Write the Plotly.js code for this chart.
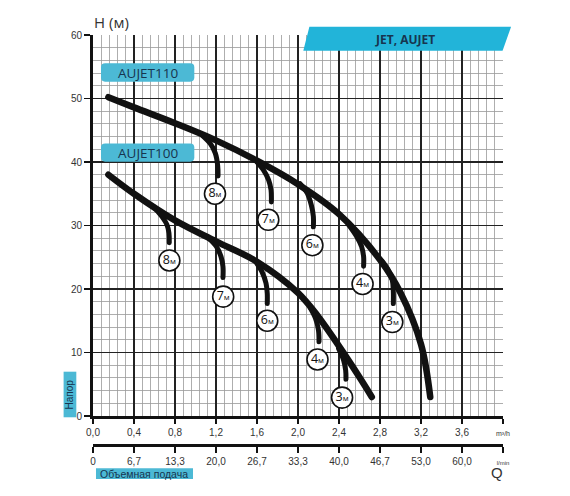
<!DOCTYPE html>
<html>
<head>
<meta charset="utf-8">
<script src="https://cdn.plot.ly/plotly-3.0.1.min.js"></script>
<style>
html,body{margin:0;padding:0;background:#fff;}
#chart{width:570px;height:496px;}
#chart path.js-line{stroke-linecap:round;stroke-linejoin:round;}
</style>
</head>
<body>
<div id="chart"></div>
<script>
// ---- data ----
const q110 = [0.15, 0.4, 0.8, 1.2, 1.6, 2.0, 2.4, 2.8, 3.0, 3.2, 3.29];
const h110 = [50.2, 48.6, 46.1, 43.4, 40.2, 36.5, 31.8, 24.6, 19.4, 11.3, 3.0];
const q100 = [0.15, 0.4, 0.8, 1.2, 1.6, 2.0, 2.2, 2.4, 2.6, 2.72];
const h100 = [38.0, 35.0, 30.8, 27.5, 24.3, 19.4, 15.6, 11.0, 6.1, 3.0];

const depths = ['8', '7', '6', '4', '3'];

const br110Q = [
  [1.063, 1.144, 1.193, 1.216, 1.22],
  [1.583, 1.665, 1.713, 1.737, 1.74],
  [2.02, 2.09, 2.13, 2.15, 2.15],
  [2.49, 2.575, 2.62, 2.64, 2.64],
  [2.82, 2.88, 2.92, 2.93, 2.93]
];
const br110H = [
  [44.25, 42.9, 41.4, 39.5, 37.8],
  [40.3, 38.7, 37.2, 35.6, 33.7],
  [36.6, 35.1, 33.2, 31.4, 29.8],
  [30.2, 28.2, 26.7, 25.1, 23.6],
  [24.4, 23.0, 21.4, 19.6, 17.7]
];
const lbl110Q = [1.19, 1.71, 2.14, 2.63, 2.92];
const lbl110H = [35.0, 30.9, 26.9, 20.8, 14.8];

const br100Q = [
  [0.59, 0.673, 0.722, 0.741, 0.744],
  [1.128, 1.203, 1.249, 1.268, 1.268],
  [1.583, 1.649, 1.688, 1.70, 1.70],
  [2.12, 2.17, 2.20, 2.205],
  [2.396, 2.445, 2.465, 2.468]
];
const br100H = [
  [33.0, 31.4, 30.1, 28.8, 27.3],
  [28.0, 26.7, 25.1, 23.5, 21.8],
  [24.4, 22.7, 20.9, 19.3, 17.7],
  [17.0, 15.4, 13.5, 11.7],
  [10.6, 8.8, 7.2, 5.8]
];
const lbl100Q = [0.745, 1.27, 1.70, 2.19, 2.43];
const lbl100H = [24.5, 18.8, 15.0, 8.9, 2.9];

const xTickVals = [0, 0.4, 0.8, 1.2, 1.6, 2.0, 2.4, 2.8, 3.2, 3.6, 4.0];
const xTickText = ['0,0', '0,4', '0,8', '1,2', '1,6', '2,0', '2,4', '2,8', '3,2', '3,6',
  '<span style="font-size:7px">m³/h</span>'];
const qTickText = ['0', '6,7', '13,3', '20,0', '26,7', '33,3', '40,0', '46,7', '53,0', '60,0',
  '<span style="font-size:6px">l/min</span>'];
const yTickVals = [0, 10, 20, 30, 40, 50, 60];

// ---- traces ----
const traces = [];
const mainLine = {color: '#111', width: 6.5, shape: 'spline', smoothing: 1};
const brLine = {color: '#111', width: 5, shape: 'spline', smoothing: 1};

traces.push({x: q110, y: h110, mode: 'lines', line: mainLine, hoverinfo: 'skip', showlegend: false});
traces.push({x: q100, y: h100, mode: 'lines', line: mainLine, hoverinfo: 'skip', showlegend: false});
for (let i = 0; i < depths.length; i++) {
  traces.push({x: br110Q[i], y: br110H[i], mode: 'lines', line: brLine, hoverinfo: 'skip', showlegend: false});
  traces.push({x: br100Q[i], y: br100H[i], mode: 'lines', line: brLine, hoverinfo: 'skip', showlegend: false});
}
const lblText = depths.map(d => d + '<span style="font-size:8px">м</span>');
const lblMarker = {size: 21, color: '#fff', line: {color: '#111', width: 1.6}};
const lblFont = {family: 'Open Sans, sans-serif', size: 12.5, color: '#111'};
traces.push({x: lbl110Q, y: lbl110H, xaxis: 'x2', mode: 'markers+text', text: lblText,
  textposition: 'middle center', marker: lblMarker, textfont: lblFont, hoverinfo: 'skip', showlegend: false});
traces.push({x: lbl100Q, y: lbl100H, xaxis: 'x2', mode: 'markers+text', text: lblText,
  textposition: 'middle center', marker: lblMarker, textfont: lblFont, hoverinfo: 'skip', showlegend: false});

// ---- layout helpers (paper coords) ----
function rrect(x0, y0, x1, y1, rx, ry) {
  return `M ${x0+rx},${y0} L ${x1-rx},${y0} Q ${x1},${y0} ${x1},${y0+ry} L ${x1},${y1-ry} Q ${x1},${y1} ${x1-rx},${y1} L ${x0+rx},${y1} Q ${x0},${y1} ${x0},${y1-ry} L ${x0},${y0+ry} Q ${x0},${y0} ${x0+rx},${y0} Z`;
}
const labelBlue = '#4cb9d5';
const navy = '#17354f';
const tickFont = {family: 'Liberation Sans, Arial, sans-serif', size: 10, color: '#333'};

const layout = {
  width: 570, height: 496,
  margin: {l: 93, r: 67, t: 35, b: 51, pad: 0},
  paper_bgcolor: '#fff', plot_bgcolor: '#fff',
  showlegend: false,
  xaxis: {
    range: [0, 4], anchor: 'y', fixedrange: true,
    tickmode: 'array', tickvals: xTickVals, ticktext: xTickText,
    ticks: 'outside', ticklen: 5, tickwidth: 1.5, tickcolor: '#111',
    showline: true, linewidth: 3, linecolor: '#111',
    showgrid: true, gridcolor: '#222', gridwidth: 1.3, zeroline: false,
    minor: {tickmode: 'linear', tick0: 0, dtick: 0.08, showgrid: true, gridcolor: '#9a9a9a', gridwidth: 0.8, ticks: ''},
    tickfont: tickFont, automargin: false
  },
  xaxis2: {
    range: [0, 4], overlaying: 'x', anchor: 'free', position: 0, side: 'bottom', fixedrange: true,
    tickmode: 'array', tickvals: xTickVals, ticktext: qTickText,
    ticks: 'outside', ticklen: 6, tickwidth: 1.5, tickcolor: '#111',
    showline: true, linewidth: 2.5, linecolor: '#111',
    showgrid: false, zeroline: false,
    tickfont: tickFont, automargin: false
  },
  yaxis: {
    range: [0, 60], domain: [0.0707, 1], fixedrange: true,
    tickmode: 'array', tickvals: yTickVals,
    ticks: 'outside', ticklen: 6, tickwidth: 1.5, tickcolor: '#111',
    showline: true, linewidth: 3, linecolor: '#111',
    showgrid: true, gridcolor: '#222', gridwidth: 1.3, zeroline: false,
    minor: {tickmode: 'linear', tick0: 0, dtick: 2, showgrid: true, gridcolor: '#9a9a9a', gridwidth: 0.8, ticks: ''},
    tickfont: tickFont, automargin: false
  },
  shapes: [
    {type: 'path', xref: 'paper', yref: 'paper', layer: 'above',
     path: 'M 0.5129,0.9617 L 0.5278,1.0202 L 1.0197,1.0202 L 0.9990,0.9617 Z',
     fillcolor: '#22b4d9', line: {width: 0}},
    {type: 'path', xref: 'paper', yref: 'paper', layer: 'above',
     path: rrect(0.0195, 0.8861, 0.2471, 0.9310, 0.01, 0.01),
     fillcolor: labelBlue, line: {width: 0}},
    {type: 'path', xref: 'paper', yref: 'paper', layer: 'above',
     path: rrect(0.0195, 0.6910, 0.2471, 0.7354, 0.01, 0.01),
     fillcolor: labelBlue, line: {width: 0}},
    {type: 'rect', xref: 'paper', yref: 'paper', layer: 'above',
     x0: -0.0717, x1: -0.0407, y0: 0.0676, y1: 0.1788,
     fillcolor: labelBlue, line: {width: 0}},
    {type: 'rect', xref: 'paper', yref: 'paper', layer: 'above',
     x0: 0.0073, x1: 0.2439, y0: -0.0829, y1: -0.0568,
     fillcolor: labelBlue, line: {width: 0}}
  ],
  annotations: [
    {text: 'H (м)', xref: 'paper', yref: 'paper', x: -0.002, y: 1.0324, xanchor: 'left', yanchor: 'middle',
     showarrow: false, font: {family: 'Open Sans, sans-serif', size: 15, color: '#333'}},
    {text: 'JET, AUJET', xref: 'paper', yref: 'paper', x: 0.7617, y: 0.990, xanchor: 'center', yanchor: 'middle',
     showarrow: false, font: {family: 'Open Sans, sans-serif', size: 12, color: navy, weight: 'bold'}},
    {text: 'AUJET110', xref: 'paper', yref: 'paper', x: 0.1333, y: 0.9085, xanchor: 'center', yanchor: 'middle',
     showarrow: false, font: {family: 'Open Sans, sans-serif', size: 13.5, color: navy}},
    {text: 'AUJET100', xref: 'paper', yref: 'paper', x: 0.1333, y: 0.7132, xanchor: 'center', yanchor: 'middle',
     showarrow: false, font: {family: 'Open Sans, sans-serif', size: 13.5, color: navy}},
    {text: 'Напор', xref: 'paper', yref: 'paper', x: -0.0562, y: 0.1232, xanchor: 'center', yanchor: 'middle',
     textangle: -90, showarrow: false, font: {family: 'Liberation Sans, Arial, sans-serif', size: 10, color: navy}},
    {text: 'Объемная подача', xref: 'paper', yref: 'paper', x: 0.1256, y: -0.0700, xanchor: 'center', yanchor: 'middle',
     showarrow: false, font: {family: 'Liberation Sans, Arial, sans-serif', size: 10.5, color: navy}},
    {text: 'Q', xref: 'paper', yref: 'paper', x: 0.985, y: -0.066, xanchor: 'center', yanchor: 'middle',
     showarrow: false, font: {family: 'Liberation Sans, Arial, sans-serif', size: 15, color: '#333'}}
  ]
};

Plotly.newPlot('chart', traces, layout, {staticPlot: true, displayModeBar: false});
</script>
</body>
</html>
